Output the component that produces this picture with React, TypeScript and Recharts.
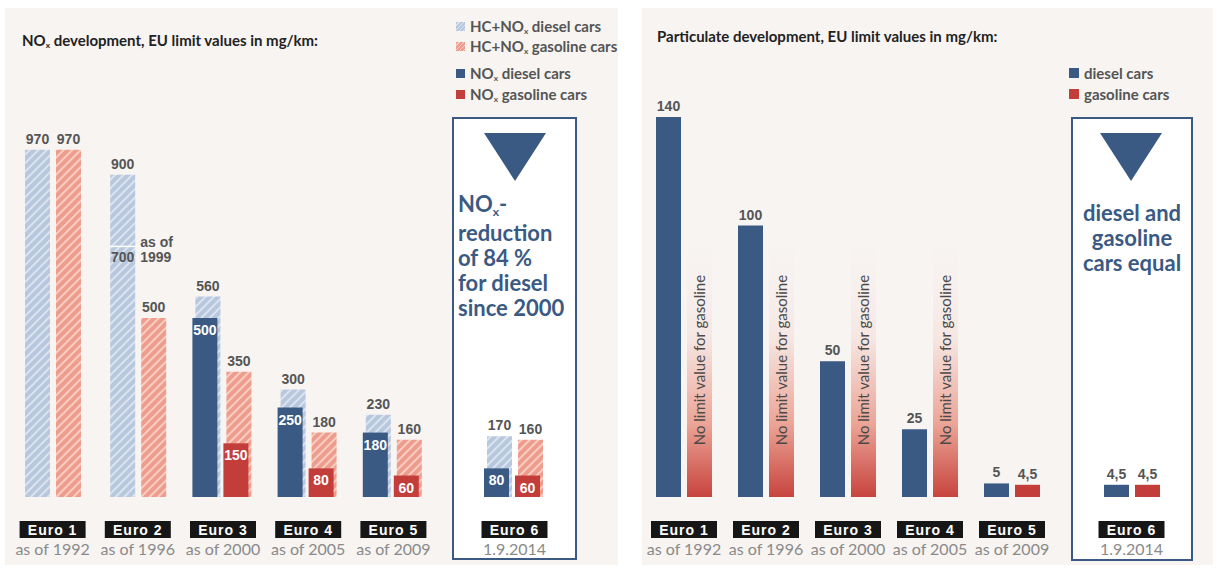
import React from "react";
import { BarChart, Bar, XAxis, YAxis, LabelList } from "recharts";

const categories = ["Euro 1", "Euro 2", "Euro 3", "Euro 4", "Euro 5", "Euro 6"];
const since = ["as of 1992", "as of 1996", "as of 2000", "as of 2005", "as of 2009", "1.9.2014"];

// NOx limits, mg/km
const hcNoxDiesel = [970, 900, 560, 300, 230, 170];
const hcNoxGasoline = [970, 500, 350, 180, 160, 160];
const noxDiesel = [null, null, 500, 250, 180, 80];
const noxGasoline = [null, null, 150, 80, 60, 60];
const hcNoxDieselFrom1999 = [null, 700, null, null, null, null];

// particulate limits, mg/km
const pmDiesel = [140, 100, 50, 25, 5, 4.5];
const pmGasoline = [null, null, null, null, 4.5, 4.5];
const pmNoLimit = [97, 97, 97, 97, null, null]; // faded "no limit" columns

const noxLegend = [
  { label: "HC+NOx diesel cars", swatch: "hatchBlue" },
  { label: "HC+NOx gasoline cars", swatch: "hatchRed" },
  { label: "NOx diesel cars", swatch: "blue" },
  { label: "NOx gasoline cars", swatch: "red" },
];
const pmLegend = [
  { label: "diesel cars", swatch: "blue" },
  { label: "gasoline cars", swatch: "red" },
];

const noxNote = ["NOx-", "reduction", "of 84 %", "for diesel", "since 2000"];
const pmNote = ["diesel and", "gasoline", "cars equal"];
const noLimitNote = "No limit value for gasoline";
const stepNote = ["as of", "1999"];

const BLUE = "#3b5a83";
const RED = "#c33e3b";
const LIGHT_BLUE = "#b7c7de";
const SALMON = "#ee9c8b";
const PANEL = "#f7f4f2";
const GREY = "#555";
const NARROW = "Lato, 'Liberation Sans', sans-serif";
const SANS = "'Liberation Sans', Arial, sans-serif";
const SHIFT = 3;

const noxData = categories.map((name, i) => ({
  name,
  hcDiesel: hcNoxDiesel[i],
  hcGasoline: hcNoxGasoline[i],
  noxDiesel: noxDiesel[i],
  noxGasoline: noxGasoline[i],
  from1999: hcNoxDieselFrom1999[i],
}));

const pmData = categories.map((name, i) => ({
  name,
  diesel: pmDiesel[i],
  gasoline: pmGasoline[i],
  noLimit: pmNoLimit[i],
}));

const fmt = (v: any) => String(v).replace(".", ",");

const rectOf = (p: any) => {
  const vb = p.viewBox || {};
  return {
    x: p.x ?? vb.x,
    y: p.y ?? vb.y,
    width: p.width ?? vb.width,
    height: p.height ?? vb.height,
  };
};

const withNox = (text: string) => {
  const parts = text.split("NOx");
  return parts.map((part, i) => (
    <React.Fragment key={i}>
      {i > 0 && (
        <>
          NO<span style={{ fontSize: "0.55em", position: "relative", top: "0.3em" }}>x</span>
        </>
      )}
      {part}
    </React.Fragment>
  ));
};

const EuroTick = (props: any) => {
  const { x, y, payload } = props;
  const sub = since[categories.indexOf(payload.value)];
  return (
    <g>
      <rect x={x - 33} y={y + 24} width={66} height={17} fill="#161616" />
      <text x={x} y={y + 33} textAnchor="middle" dominantBaseline="central" fill="#fff"
        fontSize={14} fontWeight="bold" letterSpacing={1} fontFamily={SANS}>
        {payload.value}
      </text>
      <text x={x} y={y + 51} textAnchor="middle" dominantBaseline="central" fill="#8a8a8a"
        fontSize={16} fontFamily={NARROW}>
        {sub}
      </text>
    </g>
  );
};

const TopLabel = (p: any) => {
  const { x, y, width } = rectOf(p);
  if (p.value == null || p.value === 0) return null;
  return (
    <text x={x + width / 2} y={y - 11} textAnchor="middle" dominantBaseline="central"
      fill={GREY} fontSize={14} fontWeight="bold" fontFamily={SANS}>
      {fmt(p.value)}
    </text>
  );
};

const InsideLabel = (p: any) => {
  const { x, y, width } = rectOf(p);
  if (p.value == null) return null;
  return (
    <text x={x - SHIFT + width / 2} y={y + 12} textAnchor="middle" dominantBaseline="central"
      fill="#fff" fontSize={14} fontWeight="bold" fontFamily={SANS}>
      {fmt(p.value)}
    </text>
  );
};

const DieselHcLabel = (p: any) => {
  const { x, y, width, height } = rectOf(p);
  if (p.value == null) return null;
  const step = hcNoxDieselFrom1999[p.index + p.first];
  const cx = x + width / 2;
  const ym = step != null ? y + height * (1 - step / p.value) : 0;
  return (
    <g>
      <TopLabel {...p} />
      {step != null && (
        <g fontFamily={SANS} fontWeight="bold" fontSize={14} fill={GREY}>
          <line x1={x} x2={x + width + 6} y1={ym} y2={ym} stroke="#fff" strokeWidth={1.5} />
          <text x={cx} y={ym + 11} textAnchor="middle" dominantBaseline="central">{step}</text>
          <text x={x + width + 5} y={ym - 4} dominantBaseline="central">{stepNote[0]}</text>
          <text x={x + width + 5} y={ym + 11} dominantBaseline="central">{stepNote[1]}</text>
        </g>
      )}
    </g>
  );
};

const ShiftedBar = (p: any) => {
  const { x, y, width, height, fill } = p;
  if (!height || height <= 0) return null;
  return <rect x={x - SHIFT} y={y} width={width} height={height} fill={fill} />;
};

const NoLimitLabel = (p: any) => {
  const { x, y, width, height } = rectOf(p);
  if (p.value == null || !height) return null;
  const cx = x + width / 2;
  const cy = y + height * 0.48;
  return (
    <text x={cx} y={cy} transform={`rotate(-90 ${cx} ${cy})`} textAnchor="middle"
      dominantBaseline="central" fill="#4a4a4a" fontSize={15} fontFamily={NARROW}>
      {noLimitNote}
    </text>
  );
};

const NoxChart = ({ first, count, width }: any) => {
  const data = noxData.slice(first, first + count);
  return (
    <BarChart width={width} height={458} data={data} barGap={6}
      margin={{ top: 30, right: 0, bottom: 0, left: 0 }} style={{ overflow: "visible" }}>
      <XAxis xAxisId="hc" dataKey="name" axisLine={false} tickLine={false} tickSize={0}
        tickMargin={0} height={70} interval={0} tick={<EuroTick />} />
      <XAxis xAxisId="nox" dataKey="name" hide />
      <YAxis hide domain={[0, 1000]} type="number" />
      <Bar xAxisId="hc" dataKey="hcDiesel" barSize={25} fill="url(#hatchBlue)" isAnimationActive={false}>
        <LabelList dataKey="hcDiesel" content={(p: any) => <DieselHcLabel {...p} first={first} />} />
      </Bar>
      <Bar xAxisId="hc" dataKey="hcGasoline" barSize={25} fill="url(#hatchRed)" isAnimationActive={false}>
        <LabelList dataKey="hcGasoline" content={<TopLabel />} />
      </Bar>
      <Bar xAxisId="nox" dataKey="noxDiesel" barSize={25} fill={BLUE} shape={<ShiftedBar />} isAnimationActive={false}>
        <LabelList dataKey="noxDiesel" content={<InsideLabel />} />
      </Bar>
      <Bar xAxisId="nox" dataKey="noxGasoline" barSize={25} fill={RED} shape={<ShiftedBar />} isAnimationActive={false}>
        <LabelList dataKey="noxGasoline" content={<InsideLabel />} />
      </Bar>
    </BarChart>
  );
};

const PmChart = ({ first, count, width }: any) => {
  const data = pmData.slice(first, first + count);
  return (
    <BarChart width={width} height={475} data={data} barGap={6}
      margin={{ top: 25, right: 0, bottom: 0, left: 0 }} style={{ overflow: "visible" }}>
      <XAxis dataKey="name" axisLine={false} tickLine={false} tickSize={0} tickMargin={0}
        height={70} interval={0} tick={<EuroTick />} />
      <YAxis hide domain={[0, 140]} type="number" />
      <Bar dataKey="diesel" stackId="d" barSize={25} fill={BLUE} isAnimationActive={false}>
        <LabelList valueAccessor={(e: any) => e.payload?.diesel} content={<TopLabel />} />
      </Bar>
      <Bar dataKey="gasoline" stackId="g" barSize={25} fill={RED} isAnimationActive={false}>
        <LabelList valueAccessor={(e: any) => e.payload?.gasoline} content={<TopLabel />} />
      </Bar>
      <Bar dataKey="noLimit" stackId="g" barSize={25} fill="url(#fadeRed)" isAnimationActive={false}>
        <LabelList valueAccessor={(e: any) => e.payload?.noLimit} content={<NoLimitLabel />} />
      </Bar>
    </BarChart>
  );
};

const swatchStyle = (kind: string, size: number): React.CSSProperties => {
  const bg: Record<string, string> = {
    hatchBlue: `repeating-linear-gradient(135deg, ${LIGHT_BLUE} 0 2px, #dde5f0 2px 3px)`,
    hatchRed: `repeating-linear-gradient(135deg, ${SALMON} 0 2px, #f8cfc6 2px 3px)`,
    blue: BLUE,
    red: RED,
  };
  return { width: size, height: size, background: bg[kind], marginRight: 5, flexShrink: 0 };
};

const Legend = ({ items, left, top, rowGap, size }: any) => (
  <div style={{ position: "absolute", left, top, fontFamily: NARROW, fontSize: 15, fontWeight: "bold", color: GREY }}>
    {items.map((it: any, i: number) => (
      <div key={it.label} style={{ display: "flex", alignItems: "center", height: 20, marginTop: i === 0 ? 0 : rowGap[i - 1] }}>
        <div style={swatchStyle(it.swatch, size)} />
        <span style={{ whiteSpace: "nowrap" }}>{withNox(it.label)}</span>
      </div>
    ))}
  </div>
);

const Triangle = ({ left, top }: any) => (
  <svg width={62} height={48} style={{ position: "absolute", left, top }}>
    <polygon points="0,0 62,0 31,48" fill={BLUE} />
  </svg>
);

export default function App() {
  return (
    <div style={{ position: "absolute", left: 0, top: 0, width: 1219, height: 569, background: "#fff", overflow: "hidden" }}>
      <svg width={0} height={0} style={{ position: "absolute" }}>
        <defs>
          <pattern id="hatchBlue" patternUnits="userSpaceOnUse" width={6} height={6} patternTransform="rotate(45)">
            <rect width={6} height={6} fill={LIGHT_BLUE} />
            <rect width={2} height={6} fill="#dbe3ef" />
          </pattern>
          <pattern id="hatchRed" patternUnits="userSpaceOnUse" width={6} height={6} patternTransform="rotate(45)">
            <rect width={6} height={6} fill={SALMON} />
            <rect width={2} height={6} fill="#f8cdc4" />
          </pattern>
          <linearGradient id="fadeRed" x1="0" y1="0" x2="0" y2="1">
            <stop offset="0%" stopColor="#f7f1ef" stopOpacity={0} />
            <stop offset="40%" stopColor="#f6e6e2" />
            <stop offset="72%" stopColor="#eca597" />
            <stop offset="100%" stopColor="#c7443e" />
          </linearGradient>
        </defs>
      </svg>

      {/* left panel: NOx */}
      <div style={{ position: "absolute", left: 5, top: 8, width: 613, height: 557, background: PANEL }} />
      <div style={{ position: "absolute", left: 22, top: 31, fontFamily: NARROW, fontSize: 15, fontWeight: "bold", color: "#222", whiteSpace: "nowrap" }}>
        {withNox("NOx development, EU limit values in mg/km:")}
      </div>
      <Legend items={noxLegend} left={456} top={16} rowGap={[0, 7, 1]} size={9} />
      <div style={{ position: "absolute", left: 452, top: 117, width: 121, height: 439, background: "#fff", border: `2px solid ${BLUE}` }} />
      <Triangle left={484} top={133} />
      <div style={{ position: "absolute", left: 458, top: 191, fontFamily: NARROW, fontSize: 22, fontWeight: "bold", color: BLUE, lineHeight: "25px", whiteSpace: "nowrap" }}>
        {noxNote.map((l) => <div key={l}>{withNox(l)}</div>)}
      </div>
      <div style={{ position: "absolute", left: 10, top: 109 }}>
        <NoxChart first={0} count={5} width={426} />
      </div>
      <div style={{ position: "absolute", left: 452, top: 109 }}>
        <NoxChart first={5} count={1} width={125} />
      </div>

      {/* right panel: particulates */}
      <div style={{ position: "absolute", left: 642, top: 8, width: 571, height: 557, background: PANEL }} />
      <div style={{ position: "absolute", left: 657, top: 27, fontFamily: NARROW, fontSize: 15, fontWeight: "bold", color: "#222", whiteSpace: "nowrap" }}>
        Particulate development, EU limit values in mg/km:
      </div>
      <Legend items={pmLegend} left={1069} top={63} rowGap={[1]} size={10} />
      <div style={{ position: "absolute", left: 1071, top: 117, width: 118, height: 440, background: "#fff", border: `2px solid ${BLUE}` }} />
      <Triangle left={1100} top={133} />
      <div style={{ position: "absolute", left: 1071, width: 122, top: 200, textAlign: "center", fontFamily: NARROW, fontSize: 22, fontWeight: "bold", color: BLUE, lineHeight: "25px", whiteSpace: "nowrap" }}>
        {pmNote.map((l) => <div key={l}>{l}</div>)}
      </div>
      <div style={{ position: "absolute", left: 643, top: 92 }}>
        <PmChart first={0} count={5} width={410} />
      </div>
      <div style={{ position: "absolute", left: 1071, top: 92 }}>
        <PmChart first={5} count={1} width={121} />
      </div>
    </div>
  );
}
